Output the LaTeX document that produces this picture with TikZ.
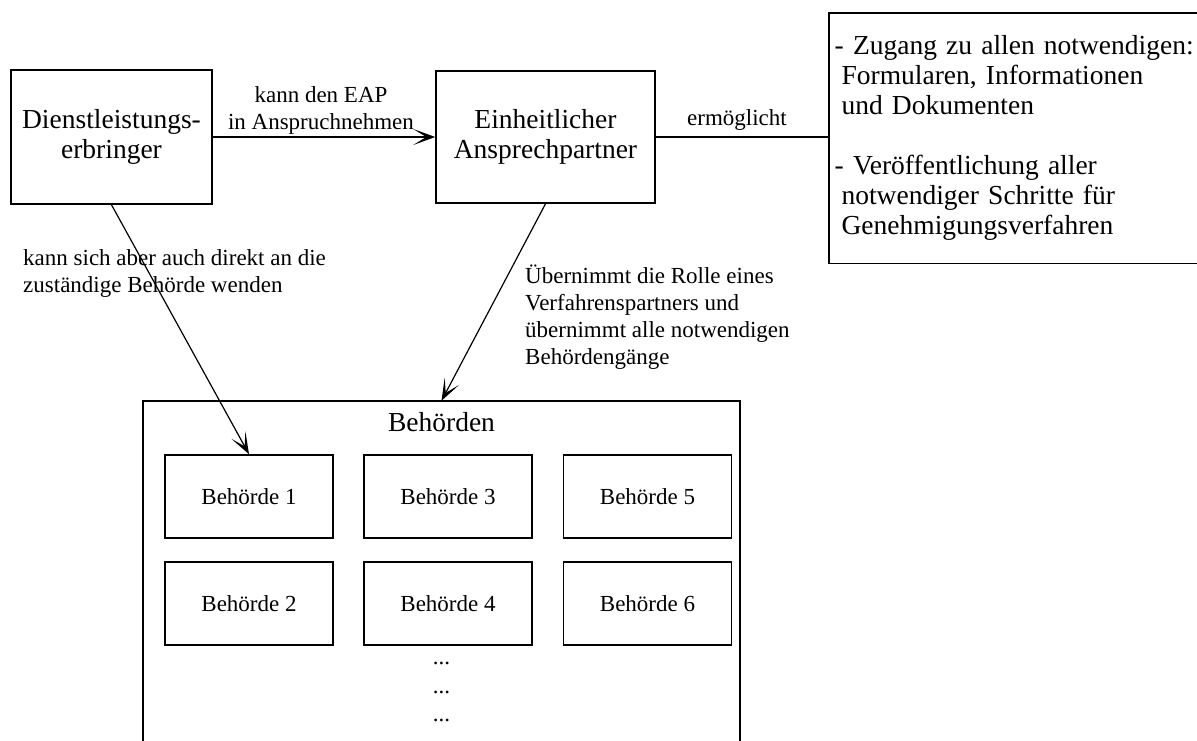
\documentclass[tikz,border=0pt]{standalone}
\usepackage{fontspec}
\setmainfont{Liberation Serif}
\usetikzlibrary{arrows.meta}
\newcommand\diagbig{\fontsize{27.5pt}{30pt}\selectfont}
\newcommand\diagsmall{\fontsize{23pt}{27pt}\selectfont}
\begin{document}
\begin{tikzpicture}[x=1pt,y=-1pt,
  mainbox/.style={draw, line width=1.6pt, inner sep=0pt, align=center, font=\diagbig},
  unitbox/.style={draw, line width=1.6pt, inner sep=0pt, minimum width=168pt, minimum height=83pt, font=\diagsmall},
  frame/.style={line width=1.6pt},
  conn/.style={line width=1.2pt},
  arr/.style={-{Stealth[length=22pt,width=16pt,inset=13pt]}},
  lbl/.style={font=\diagsmall, inner sep=0pt}
]
\useasboundingbox (0,0) rectangle (1197,740);
\clip (0,0) rectangle (1197,740);

% main actors
\node[mainbox, minimum width=201pt, minimum height=134pt] (D) at (111.5,137) {Dienstleistungs-\\erbringer};
\node[mainbox, minimum width=219pt, minimum height=132pt] (E) at (545.5,137) {Einheitlicher\\Ansprechpartner};

% services offered by the single point of contact; the box runs past the right edge
\node[anchor=north west, minimum height=250pt, text width=440pt,
      inner xsep=5.5pt, inner ysep=0pt, align=left, font=\diagbig] (R) at (829,13)
  {- Zugang zu allen notwendigen:\\
   \hspace*{0.25em}Formularen, Informationen\\
   \hspace*{0.25em}und Dokumenten\\[30pt]
   - Veröffentlichung aller\\
   \hspace*{0.25em}notwendiger Schritte für\\
   \hspace*{0.25em}Genehmigungsverfahren};
\draw[frame] (R.north east) -- (R.north west) -- (R.south west) -- (R.south east);

% authorities; the box runs past the bottom edge
\node[inner sep=0pt, minimum width=597pt, minimum height=359pt] (Bh) at (441.5,580.5) {};
\draw[frame] (Bh.south west) -- (Bh.north west) -- (Bh.north east) -- (Bh.south east);
\node[font=\diagbig, anchor=base, inner sep=0pt] (BhT) at (441.5,431) {Behörden};
\node[unitbox] (B1) at (249,496.5) {Behörde 1};
\node[unitbox] (B3) at (448,496.5) {Behörde 3};
\node[unitbox] (B5) at (647.5,496.5) {Behörde 5};
\node[unitbox] (B2) at (249,603.5) {Behörde 2};
\node[unitbox] (B4) at (448,603.5) {Behörde 4};
\node[unitbox] (B6) at (647.5,603.5) {Behörde 6};
\node[font=\fontsize{23pt}{28.5pt}\selectfont, inner sep=0pt, align=center, anchor=north] (dots) at (441.5,662) {...\\...\\...};

% connectors
\draw[conn, arr] (D.east) -- (E.west);
\draw[conn] (E.east) -- (E.east -| R.west);
\draw[conn, arr] (D.south) -- (B1.north);
\draw[conn, arr] (E.south) -- (Bh.north);

% connector labels
\node[lbl, align=center, anchor=north] (l1) at (321,86) {kann den EAP\\in Anspruchnehmen};
\node[lbl, anchor=base] (l2) at (737,125) {ermöglicht};
\node[lbl, align=left, anchor=north west] (l3) at (23,249) {kann sich aber auch direkt an die\\zuständige Behörde wenden};
\node[lbl, align=left, anchor=north west] (l4) at (525,265) {Übernimmt die Rolle eines\\Verfahrenspartners und\\übernimmt alle notwendigen\\Behördengänge};
\end{tikzpicture}
\end{document}
